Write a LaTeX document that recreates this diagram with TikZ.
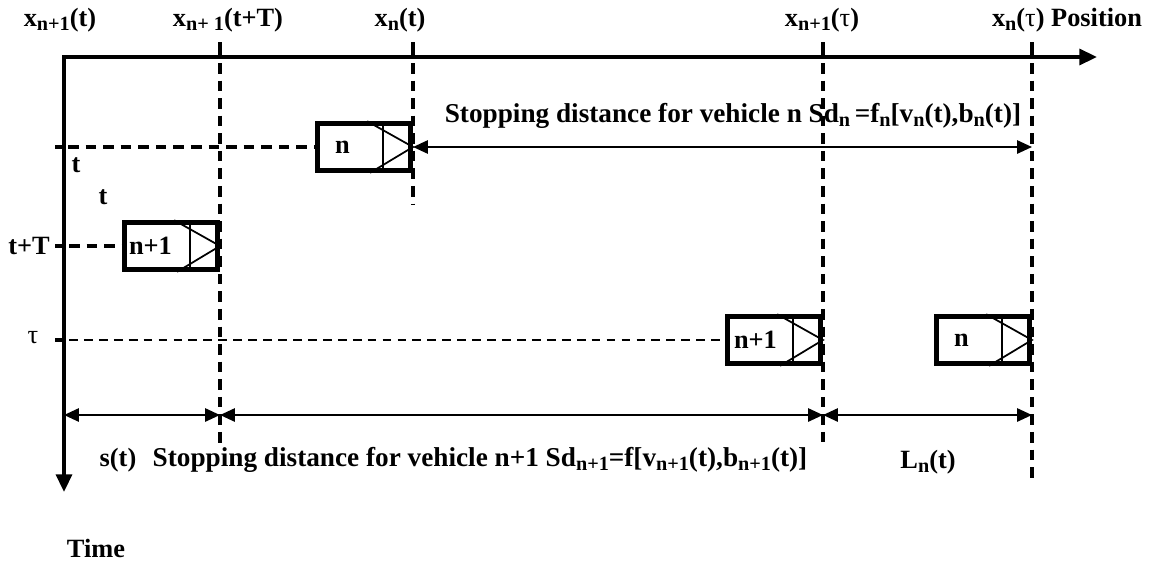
\documentclass[tikz,border=0pt]{standalone}
\usepackage{fontspec}
\setmainfont{Liberation Serif}
\usetikzlibrary{arrows.meta,positioning,calc}
\tikzset{>=Stealth}
\newcommand{\lowidx}[1]{\raisebox{-0.35ex}{\fontsize{11.5}{12}\selectfont #1}}

\begin{document}
\begin{tikzpicture}[
    x=0.02cm, y=-0.02cm,
    every node/.style={font=\fontsize{15}{18}\selectfont\bfseries, inner sep=0pt},
    longlabel/.style={font=\fontsize{15.5}{18}\selectfont\bfseries},
    vehicle/.style={draw, line width=2.6pt, minimum width=1.86cm, minimum height=0.94cm, anchor=east},
    axis/.style={line width=2pt, line cap=rect, -{Triangle[length=10pt, width=9pt]}},
    guide/.style={line width=2pt, dash pattern=on 6pt off 4pt},
    thinguide/.style={line width=1.3pt, dash pattern=on 5pt off 3.5pt},
    tick/.style={line width=2pt},
    dim/.style={line width=1.3pt, {Triangle[length=8.5pt, width=7.5pt]}-{Triangle[length=8.5pt, width=7.5pt]}},
    >=Stealth
  ]
    \useasboundingbox (0,0) rectangle (1153,562);
    % axes
    \coordinate (O) at (64,57);
    \coordinate (pend) at (1097,57);
    \coordinate (tend) at (64,492);
    \draw[axis] (O) -- (pend);
    \draw[axis] (O) -- (tend);
    % positions on the road
    \coordinate (xA) at (220,57);
    \coordinate (xB) at (413,57);
    \coordinate (xC) at (823,57);
    \coordinate (xD) at (1032,57);
    \coordinate (bA) at (220,445);
    \coordinate (bB) at (413,205);
    \coordinate (bC) at (823,442);
    \coordinate (bD) at (1032,480);
    \foreach \c/\b in {xA/bA, xB/bB, xC/bC, xD/bD} {
      \draw[tick] ($(\c)+(0,-15)$) -- (\c);
      \draw[guide] ($(\c)+(0,6)$) -- (\b);
    }
    % instants on the time axis
    \coordinate (tA) at (64,147);
    \coordinate (tB) at (64,246);
    \coordinate (tC) at (64,340);
    \foreach \c in {tA, tB, tC}
      \draw[tick] ($(\c)+(-9,0)$) -- (\c);
    % vehicles
    \node[vehicle] (vA) at (xB |- tA) {};
    \node[vehicle] (vB) at (xA |- tB) {};
    \node[vehicle] (vC) at (xC |- tC) {};
    \node[vehicle] (vD) at (xD |- tC) {};
    \foreach \c in {vA, vB, vC, vD} {
      \draw[line width=1pt] ($(\c.north west)!0.69!(\c.north east)$) -- ($(\c.south west)!0.69!(\c.south east)$);
      \draw[line width=1pt] ($(\c.north west)!0.53!(\c.north east)$) -- (\c.east) -- ($(\c.south west)!0.56!(\c.south east)$);
    }
    \node (lA) at ([xshift=0.54cm]vA.west) {n};
    \node (lB) at ([xshift=0.56cm]vB.west) {n+1};
    \node (lC) at ([xshift=0.6cm]vC.west) {n+1};
    \node (lD) at ([xshift=0.54cm]vD.west) {n};
    \draw[guide] ($(tA)+(4,0)$) -- (vA.west);
    \draw[guide] ($(tB)+(5,0)$) -- (vB.west);
    \draw[thinguide] ($(tC)+(5,0)$) -- (vC.west);
    % stopping distances
    \coordinate (d0) at (64,415);
    \draw[dim] (vA.east) -- (xD |- tA);
    \draw[dim] (d0) -- (xA |- d0);
    \draw[dim] (xA |- d0) -- (xC |- d0);
    \draw[dim] (xC |- d0) -- (xD |- d0);
    % labels
    \node (lxA) at (60,20) {x\lowidx{n+1}(t)};
    \node (lxB) at (228,20) {x\lowidx{n+ 1}(t+T)};
    \node (lxC) at (400,20) {x\lowidx{n}(t)};
    \node (lxD) at (822,20) {x\lowidx{n+1}({\mdseries τ})};
    \node (lxE) at (1067,20) {x\lowidx{n}({\mdseries τ}) Position};
    \node (ltA) at (76,165) {t};
    \node (ltB) at (103,197) {t};
    \node (ltC) at (29,246) {t+T};
    \node (ltD) at (33,338) {\mdseries τ};
    \node[longlabel] (sdn) at (733,116) {Stopping distance for vehicle n Sd\lowidx{n}\,=f\lowidx{n}[v\lowidx{n}(t),b\lowidx{n}(t)]};
    \node (st) at (118,460) {s(t)};
    \node[longlabel] (sdm) at (480,460) {Stopping distance for vehicle n+1 Sd\lowidx{n+1}=f[v\lowidx{n+1}(t),b\lowidx{n+1}(t)]};
    \node (ln) at (928,462) {L\lowidx{n}(t)};
    \node (time) at (96,548) {Time};
  \end{tikzpicture}
\end{document}
